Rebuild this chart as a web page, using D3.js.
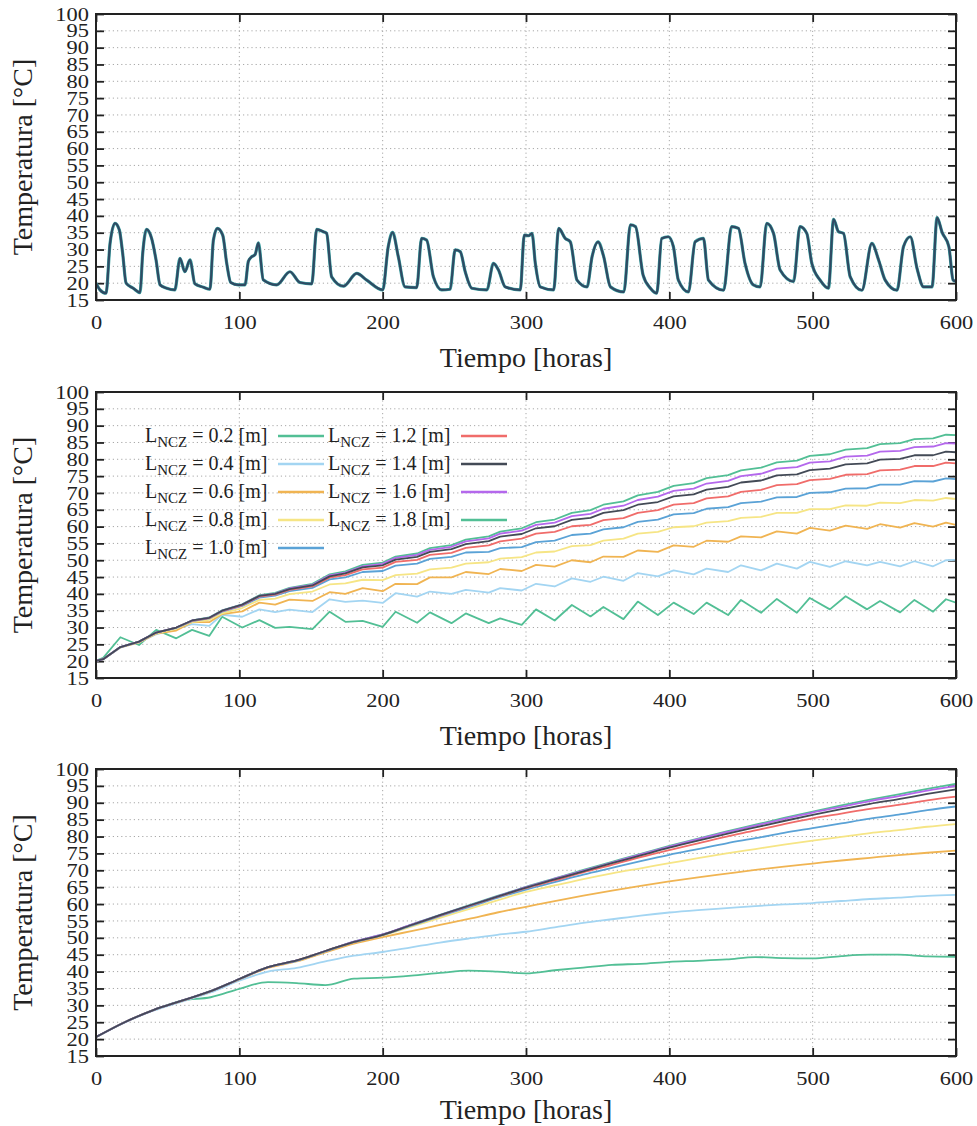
<!DOCTYPE html>
<html>
<head>
<meta charset="utf-8">
<script src="https://cdn.jsdelivr.net/npm/d3@7"></script>
<style>
  body { margin: 0; background: #fff; }
  svg text { font-family: "Liberation Serif", "Times New Roman", "DejaVu Serif", serif; fill: #222; }
</style>
</head>
<body>
<svg id="chart" width="977" height="1126"></svg>
<script>
// ---------- data ----------
// Ambient temperature, [hour, °C]
const ambientReadings = [
  [0,20],[2.8,18],[7,17],[9.8,31.8],[13.3,37.8],[16.3,35.8],[18.6,28.9],[21,20],[26,18.5],[30.7,17.2],
  [32.6,28.9],[35.3,36],[38.8,33.3],[41.9,26.9],[44.7,19.5],[49.3,18.5],[55,18],[58.6,27.4],[62,23.4],[65.6,26.9],
  [69,19.8],[74.9,18.8],[79.5,18.2],[81.9,32.8],[84.7,36.3],[88.4,34.3],[91.2,25.9],[94,20.2],[99.3,19.5],[104,19.5],
  [106.3,26.5],[108.5,27.8],[111,28.5],[113.3,32],[116.7,21],[126,19.5],[135.3,23.4],[142.3,20.2],[150.5,19.8],[154,36],
  [158.6,35.3],[160.9,34.8],[164.4,21.9],[172.6,19.1],[181.9,22.9],[188.9,20.9],[200,18],[203.9,30.9],[206.9,35.1],[210.9,27.9],
  [215.6,18.9],[223.7,18.7],[227.2,33.3],[230.7,32.8],[235.4,21.9],[241.2,18],[247,18.2],[250.6,29.9],[254.1,29.4],[257.6,23.4],
  [262.2,18.5],[272.7,18],[277.3,25.9],[280.8,23.9],[285.5,18.9],[296,18],[298.8,34.3],[301.8,34.1],[304.2,34.8],[306.5,25.9],
  [310,18.9],[319.3,18],[322.8,36.3],[327.4,33.3],[330.9,32.3],[335.6,20.9],[342.6,18.9],[346.1,27.9],[350.3,32.3],[354.2,27.9],
  [358.9,18.9],[368.2,17.4],[372.9,37.3],[376.4,36.8],[381.7,22.4],[386.8,18.5],[391.2,17.0],[394.7,33.3],[399.3,33.8],[402.8,30.9],
  [406.3,20.9],[413.3,17.4],[418,32.3],[423.8,33.3],[427.3,20.9],[437.8,17.9],[443.5,36.8],[448.2,36.3],[452.8,25.9],[458.6,19.5],
  [463.3,18.9],[468,37.8],[472.7,34.8],[477.3,23.9],[486.6,20.5],[491.2,36.8],[495.9,34.8],[499.4,25.9],[505.2,20.9],[511,18.5],
  [514.6,39],[518,35.3],[521.5,34.8],[526.2,21.9],[534.3,17.9],[541.3,31.8],[546,26.9],[550.6,20.9],[558.8,17.9],[563.4,30.9],
  [568.1,33.8],[572.8,24.4],[577.4,18.9],[583.3,18.9],[586.8,39.5],[590.3,35.1],[595,30.9],[598,20.9],[600,20.5]
];

// Middle panel: sample hours shared by every L_NCZ series
const midHours = [0,5,17,30,42,56,67,79,88,102,114,125,135,151,163,174,186,200,209,224,233,248,258,274,282,297,307,320,332,345,354,368,378,392,403,417,426,441,450,464,475,489,498,512,523,538,547,561,571,584,593,600];
const mid02 = [20.1,21.0,27.1,24.8,29.3,26.8,29.3,27.5,33.2,30.0,32.2,29.9,30.2,29.5,34.7,31.7,32.0,30.2,34.7,31.4,34.5,31.3,34.2,31.3,32.7,30.8,35.4,32.1,36.7,33.3,36.1,32.5,37.7,33.7,37.4,34.0,37.4,33.7,38.2,34.4,38.5,34.4,38.8,35.4,39.3,35.4,37.9,34.5,38.2,34.7,38.4,37.4];
const mid04 = [20.1,20.6,24.0,25.6,28.0,29.6,31.0,30.5,33.8,33.2,35.4,34.6,35.3,34.6,38.4,37.6,38.0,37.3,40.2,39.2,40.7,40.0,41.2,40.4,41.7,41.0,43.0,42.2,44.6,43.6,45.1,43.9,46.2,45.2,47.0,45.8,47.5,46.5,48.5,47.0,49.0,47.5,49.5,48.0,49.7,48.5,49.5,48.2,49.7,48.2,50.0,50.1];
const mid06 = [20.1,20.6,24.1,25.6,28.2,29.1,31.6,31.6,34.0,34.8,37.4,36.8,38.3,37.9,40.5,40.0,41.7,40.8,43.0,42.9,44.9,44.9,46.5,45.9,47.4,46.8,48.6,48.1,50.0,49.4,51.1,51.0,52.9,52.5,54.4,54.0,55.8,55.5,57.1,56.8,58.6,57.9,59.6,58.8,60.3,59.3,60.7,59.7,61.0,60.0,61.2,60.5];
const mid08 = [20.1,20.6,24.1,25.7,28.3,29.7,31.6,32.3,34.2,35.8,38.2,38.6,39.9,40.7,42.8,43.1,44.2,44.1,45.6,46.0,47.3,47.8,49.0,49.4,50.5,50.9,52.3,52.6,54.2,54.5,55.8,56.4,57.9,58.4,59.8,60.1,61.2,61.6,62.6,62.9,64.1,64.1,65.2,65.2,66.3,66.2,67.1,67.0,67.9,67.7,68.5,68.2];
const mid10 = [20.1,20.6,24.2,25.8,28.5,29.9,31.9,32.7,34.7,36.4,38.9,39.5,40.8,41.8,44.3,44.9,46.5,46.8,48.4,49.0,50.4,51.0,52.3,52.5,53.6,53.9,55.4,55.8,57.5,57.9,59.2,59.8,61.4,62.1,63.6,64.0,65.3,65.8,67.0,67.4,68.7,68.8,70.0,70.2,71.3,71.4,72.5,72.5,73.5,73.4,74.3,74.1];
const mid12 = [20.1,20.6,24.2,25.8,28.5,30.0,32.0,32.8,34.9,36.6,39.2,39.8,41.2,42.2,44.8,45.6,47.3,47.8,49.5,50.1,51.6,52.2,53.7,54.4,55.6,56.4,57.9,58.4,60.1,60.5,61.9,62.5,64.1,64.9,66.5,67.0,68.4,69.0,70.3,70.9,72.3,72.6,73.8,74.2,75.4,75.6,76.7,76.9,78.0,78.0,79.0,78.8];
const mid14 = [20.1,20.6,24.2,25.8,28.5,30.0,32.1,32.9,35.0,36.8,39.4,40.0,41.4,42.5,45.2,46.1,47.9,48.5,50.2,51.0,52.5,53.3,54.8,55.7,57.0,57.8,59.5,60.1,62.0,62.6,64.1,64.9,66.5,67.3,69.0,69.6,71.0,71.8,73.1,73.7,75.2,75.5,76.8,77.2,78.5,78.8,79.9,80.1,81.2,81.2,82.3,82.1];
const mid16 = [20.1,20.6,24.2,25.8,28.5,30.0,32.1,32.9,35.0,36.8,39.4,40.1,41.6,42.7,45.5,46.3,48.2,48.9,50.7,51.6,53.1,54.0,55.6,56.5,57.9,58.8,60.5,61.2,63.1,63.8,65.3,66.2,67.9,68.9,70.6,71.3,72.8,73.6,75.0,75.7,77.2,77.7,79.0,79.4,80.8,81.1,82.3,82.5,83.6,83.8,84.8,84.7];
const mid18 = [20.1,20.6,24.2,25.8,28.5,30.0,32.1,33.0,35.1,36.9,39.6,40.3,41.8,43.0,45.8,46.7,48.6,49.3,51.1,52.0,53.6,54.5,56.1,57.1,58.5,59.5,61.3,62.1,64.1,64.9,66.5,67.5,69.3,70.3,72.1,72.9,74.4,75.3,76.7,77.5,79.1,79.6,81.0,81.5,82.9,83.3,84.5,84.8,86.0,86.2,87.3,87.2];

// Bottom panel: sample hours shared by every L_NCZ series
const lowHours = [0,20,40,60,80,100,120,140,160,180,200,220,240,260,280,300,320,340,360,380,400,420,440,460,480,500,520,540,560,580,600];
const low02 = [20.6,25.0,28.6,31.4,32.4,34.9,36.9,36.6,36.0,37.9,38.2,38.8,39.6,40.3,40.0,39.5,40.4,41.2,42.0,42.3,42.9,43.2,43.6,44.3,44.0,43.9,44.6,45.0,45.0,44.5,44.4];
const low04 = [20.6,24.9,28.4,31.1,33.8,37.3,40.0,41.1,43.0,44.7,45.8,47.2,48.6,49.8,50.9,51.8,53.1,54.4,55.5,56.6,57.5,58.2,58.8,59.4,59.9,60.3,60.9,61.5,61.9,62.4,62.7];
const low06 = [20.6,25.0,28.6,31.3,34.1,37.7,41.1,43.0,45.7,48.3,50.2,52.0,53.8,55.6,57.5,59.2,60.9,62.5,64.0,65.4,66.7,67.9,69.0,70.1,71.1,72.0,72.9,73.7,74.5,75.2,75.8];
const low08 = [20.6,25.0,28.6,31.4,34.2,37.8,41.3,43.2,46.0,48.7,50.7,53.3,55.9,58.5,61.1,63.6,65.5,67.4,69.1,70.6,72.1,73.6,75.0,76.3,77.6,78.8,79.9,81.0,81.9,82.9,83.7];
const low10 = [20.6,25.0,28.6,31.4,34.2,37.8,41.3,43.2,46.0,48.7,50.8,53.6,56.4,59.1,61.8,64.3,66.5,68.7,70.7,72.7,74.6,76.3,78.0,79.5,81.1,82.5,83.9,85.3,86.5,87.8,88.9];
const low12 = [20.6,25.0,28.6,31.4,34.2,37.8,41.3,43.3,46.1,48.8,50.9,53.8,56.6,59.4,62.1,64.7,67.0,69.4,71.6,73.9,76.0,78.0,80.0,81.8,83.7,85.4,86.8,88.2,89.4,90.7,91.8];
const low14 = [20.6,25.0,28.6,31.4,34.2,37.8,41.3,43.3,46.1,48.8,50.9,53.8,56.7,59.5,62.2,64.9,67.3,69.7,72.1,74.4,76.7,78.8,80.8,82.7,84.6,86.4,88.1,89.7,91.1,92.6,94.0];
const low16 = [20.6,25.0,28.6,31.4,34.2,37.8,41.3,43.3,46.1,48.9,51.0,53.9,56.7,59.5,62.3,65.0,67.5,69.9,72.3,74.7,77.0,79.2,81.3,83.2,85.2,87.1,88.8,90.5,92.0,93.6,95.0];
const low18 = [20.6,25.0,28.6,31.4,34.2,37.8,41.3,43.3,46.1,48.9,51.0,53.9,56.8,59.6,62.4,65.1,67.6,70.1,72.5,74.9,77.2,79.4,81.5,83.5,85.5,87.4,89.2,90.9,92.5,94.1,95.6];

const lengthLabels = ["0.2","0.4","0.6","0.8","1.0","1.2","1.4","1.6","1.8"];
const seriesColors = ["#52bf95","#a3d5f2","#f0b452","#f6e585","#5aa2d6","#f06c6a","#434a56","#b468ec","#52bf95"];
const midSeries = [mid02, mid04, mid06, mid08, mid10, mid12, mid14, mid16, mid18];
const lowSeries = [low02, low04, low06, low08, low10, low12, low14, low16, low18];
// drawing order (index into the series lists), last is on top
const drawOrder = [0,1,2,3,4,5,8,7,6];

const xTicks = [0,100,200,300,400,500,600];
const yTicks = [15,20,25,30,35,40,45,50,55,60,65,70,75,80,85,90,95,100];

// ---------- layout ----------
const svg = d3.select("#chart");
const plotLeft = 96, plotRight = 956;
const panelBoxes = [
  { top: 14,  bottom: 300, titleGap: 67 },
  { top: 392, bottom: 678, titleGap: 67 },
  { top: 769, bottom: 1056, titleGap: 63 }
];
const serif = '"Liberation Serif", "Times New Roman", serif';
const tickFont = 19, tickStretch = 1.18;
const x = d3.scaleLinear().domain([0, 600]).range([plotLeft, plotRight]);

function drawPanel(box, idx) {
  const y = d3.scaleLinear().domain([15, 100]).range([box.bottom, box.top]);
  const g = svg.append("g");

  // dotted grid
  const grid = g.append("g").attr("stroke", "#a8a8a8").attr("stroke-width", 1)
    .attr("stroke-dasharray", "1.2,3").attr("fill", "none");
  yTicks.filter(v => v > 15 && v < 100).forEach(v => {
    grid.append("line").attr("x1", plotLeft).attr("x2", plotRight)
      .attr("y1", y(v)).attr("y2", y(v));
  });
  xTicks.filter(v => v > 0 && v < 600).forEach(v => {
    grid.append("line").attr("y1", box.top).attr("y2", box.bottom)
      .attr("x1", x(v)).attr("x2", x(v));
  });

  // axes with inward ticks
  const left = g.append("g").attr("transform", `translate(${plotLeft},0)`)
    .call(d3.axisLeft(y).tickValues(yTicks).tickSizeInner(-8).tickSizeOuter(0).tickPadding(6));
  const bottom = g.append("g").attr("transform", `translate(0,${box.bottom})`)
    .call(d3.axisBottom(x).tickValues(xTicks).tickSizeInner(-8).tickSizeOuter(0).tickPadding(16));
  const top = g.append("g").attr("transform", `translate(0,${box.top})`)
    .call(d3.axisTop(x).tickValues(xTicks).tickSizeInner(-8).tickSizeOuter(0).tickFormat(""));
  const right = g.append("g").attr("transform", `translate(${plotRight},0)`)
    .call(d3.axisRight(y).tickValues(yTicks).tickSizeInner(-8).tickSizeOuter(0).tickFormat(""));
  [left, bottom, top, right].forEach(a => {
    a.attr("font-family", serif);
    a.select(".domain").remove();
    a.selectAll(".tick line").attr("stroke", "#222").attr("stroke-width", 1.8);
    a.selectAll("text").attr("font-size", tickFont).attr("fill", "#222")
      .style("font-family", serif)
      .attr("transform", `scale(${tickStretch},1)`);
  });

  // axis titles
  g.append("text").attr("x", (plotLeft + plotRight) / 2).attr("y", box.bottom + box.titleGap)
    .attr("text-anchor", "middle").attr("font-size", 28).text("Tiempo [horas]");
  g.append("text")
    .attr("transform", `translate(32,${(box.top + box.bottom) / 2}) rotate(-90)`)
    .attr("text-anchor", "middle").attr("font-size", 28).text("Temperatura [°C]");

  const clipId = "clip" + idx;
  svg.append("clipPath").attr("id", clipId).append("rect")
    .attr("x", plotLeft).attr("y", box.top)
    .attr("width", plotRight - plotLeft).attr("height", box.bottom - box.top);

  const lines = g.append("g").attr("clip-path", `url(#${clipId})`);
  return { g, y, lines };
}

const p1 = drawPanel(panelBoxes[0], 0);
const p2 = drawPanel(panelBoxes[1], 1);
const p3 = drawPanel(panelBoxes[2], 2);

// top panel: ambient temperature
const ambLine = d3.line().curve(d3.curveMonotoneX).x(d => x(d[0])).y(d => p1.y(d[1]));
p1.lines.append("path").datum(ambientReadings).attr("d", ambLine)
  .attr("fill", "none").attr("stroke", "#3a9fa0").attr("stroke-width", 3.2).attr("stroke-linejoin", "round");
p1.lines.append("path").datum(ambientReadings).attr("d", ambLine)
  .attr("fill", "none").attr("stroke", "#2f4a63").attr("stroke-width", 2.2).attr("stroke-linejoin", "round");

// middle and bottom panels: one line per L_NCZ
function drawSeries(panel, hours, seriesList, curve) {
  const line = d3.line().curve(curve).x(d => x(d[0])).y(d => panel.y(d[1]));
  drawOrder.forEach(i => {
    const pts = hours.map((h, k) => [h, seriesList[i][k]]);
    panel.lines.append("path").datum(pts).attr("d", line)
      .attr("fill", "none").attr("stroke", seriesColors[i])
      .attr("stroke-width", 1.8).attr("stroke-linejoin", "round");
  });
}
drawSeries(p2, midHours, midSeries, d3.curveLinear);
drawSeries(p3, lowHours, lowSeries, d3.curveMonotoneX);

// frames
panelBoxes.forEach(b => {
  svg.append("rect").attr("x", plotLeft).attr("y", b.top)
    .attr("width", plotRight - plotLeft).attr("height", b.bottom - b.top)
    .attr("fill", "none").attr("stroke", "#222").attr("stroke-width", 2);
});

// legend in the middle panel
const legend = p2.g.append("g");
const colX = [145, 328];
const rowY0 = 442, rowStep = 28;
lengthLabels.forEach((lab, i) => {
  const col = i < 5 ? 0 : 1;
  const row = i < 5 ? i : i - 5;
  const ty = rowY0 + row * rowStep;
  const t = legend.append("text").attr("x", colX[col]).attr("y", ty).attr("font-size", 20);
  t.append("tspan").text("L");
  t.append("tspan").attr("font-size", 15).attr("dy", 5).text("NCZ");
  t.append("tspan").attr("dy", -5).text(" = " + lab + " [m]");
  const lx = colX[col] + 133;
  legend.append("line").attr("x1", lx).attr("x2", lx + 46)
    .attr("y1", ty - 6).attr("y2", ty - 6)
    .attr("stroke", seriesColors[i]).attr("stroke-width", 2.5);
});
</script>
</body>
</html>
